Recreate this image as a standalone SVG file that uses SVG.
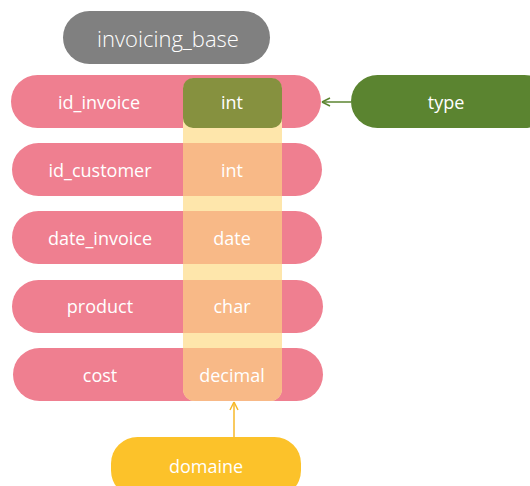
<svg xmlns="http://www.w3.org/2000/svg" width="530" height="486" viewBox="0 0 530 486">
<style>
text{font-family:"Open Sans","Liberation Sans",sans-serif;fill:#ffffff;text-anchor:middle;dominant-baseline:central}
.lbl{font-size:18px}
.title{font-size:22px;font-weight:300}
.row{fill:#EF7F90}
.cell{fill:#F8B987}
</style>
<defs>
<marker id="ag" markerWidth="10" markerHeight="10" refX="9" refY="5" orient="auto" markerUnits="userSpaceOnUse">
<path d="M9,5 L1,1 M9,5 L1,9" stroke="#5B8430" stroke-width="1.5" fill="none"/>
</marker>
<marker id="ay" markerWidth="10" markerHeight="10" refX="9" refY="5" orient="auto" markerUnits="userSpaceOnUse">
<path d="M9,5 L1,1 M9,5 L1,9" stroke="#F7B92A" stroke-width="1.5" fill="none"/>
</marker>
</defs>
<g id="invoicing_base">
<rect x="63" y="11" width="207" height="53" rx="26.5" fill="#808080"/>
<text class="title" x="168" y="38">invoicing_base</text>
</g>
<g id="rows">
<g id="row_id_invoice"><rect class="row" x="11" y="75" width="310" height="53" rx="26.5"/></g>
<g id="row_id_customer"><rect class="row" x="12" y="143" width="310" height="53" rx="26.5"/></g>
<g id="row_date_invoice"><rect class="row" x="12" y="211" width="310" height="53" rx="26.5"/></g>
<g id="row_product"><rect class="row" x="12" y="280" width="311" height="53" rx="26.5"/></g>
<g id="row_cost"><rect class="row" x="13" y="348" width="310" height="53" rx="26.5"/></g>
</g>
<g id="column">
<rect x="183" y="78" width="99" height="323" rx="12" fill="#FEE6AB"/>
<rect class="cell" x="183" y="143" width="99" height="53"/>
<rect class="cell" x="183" y="211" width="99" height="53"/>
<rect class="cell" x="183" y="280" width="99" height="53"/>
<path class="cell" d="M183,348 H282 V389 A12,12 0 0 1 270,401 H195 A12,12 0 0 1 183,389 Z"/>
<rect x="183" y="78" width="99" height="50" rx="10" fill="#86913F"/>
</g>
<g id="labels">
<text class="lbl" x="99" y="102">id_invoice</text>
<text class="lbl" x="100" y="170">id_customer</text>
<text class="lbl" x="100" y="238">date_invoice</text>
<text class="lbl" x="100" y="306">product</text>
<text class="lbl" x="100" y="375">cost</text>
<text class="lbl" x="232" y="102">int</text>
<text class="lbl" x="232" y="170">int</text>
<text class="lbl" x="232" y="238">date</text>
<text class="lbl" x="232" y="306">char</text>
<text class="lbl" x="232" y="375">decimal</text>
</g>
<g id="type">
<rect x="351" y="75" width="200" height="53" rx="26.5" fill="#5B8430"/>
<text class="lbl" x="446" y="102">type</text>
</g>
<g id="domaine">
<rect x="111" y="437" width="190" height="60" rx="26.5" fill="#FCC22A"/>
<text class="lbl" x="206" y="466">domaine</text>
</g>
<g id="connectors">
<line x1="351" y1="102" x2="322" y2="102" stroke="#5B8430" stroke-width="1.5" marker-end="url(#ag)"/>
<line x1="234" y1="437" x2="234" y2="402" stroke="#F7B92A" stroke-width="1.5" marker-end="url(#ay)"/>
</g>
</svg>
